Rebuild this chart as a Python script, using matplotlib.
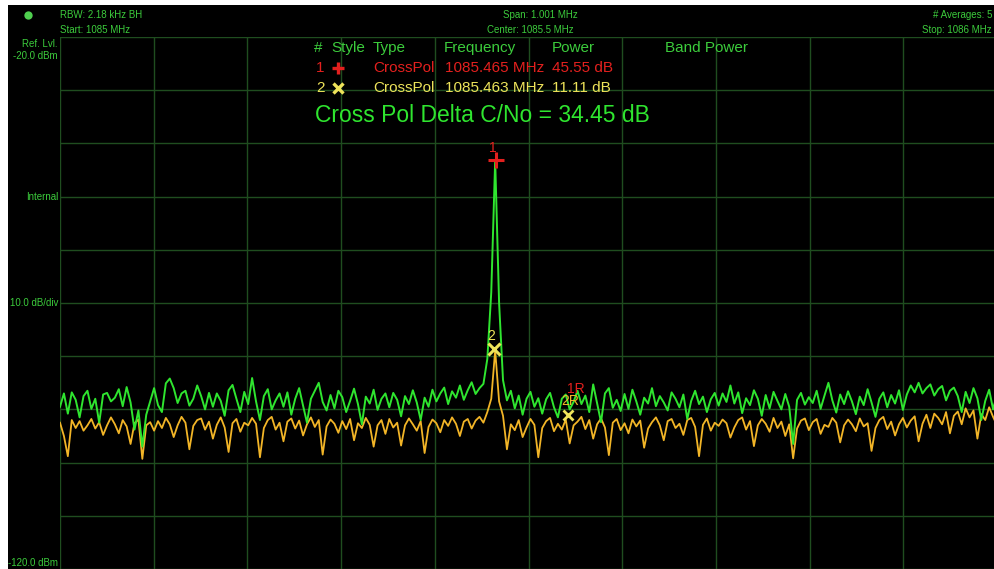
import numpy as np
import matplotlib
matplotlib.use('Agg')
import matplotlib.pyplot as plt
from matplotlib.patches import Rectangle

plt.rcParams['font.family'] = ['Liberation Sans', 'DejaVu Sans']

### sweep settings
start_mhz = 1085.0
stop_mhz = 1086.0
ref_lvl = -20.0
db_div = 10.0

### traces (dBm)
green_trace = [
    -89.5, -87.0, -90.8, -86.8, -88.2, -91.5, -87.5, -86.5, -89.9, -88.0, -92.5, -87.2,
    -86.9, -88.5, -87.8, -86.2, -89.4, -85.8, -88.7, -93.8, -90.2, -97.0, -91.0, -88.5,
    -86.0, -89.2, -90.5, -85.1, -84.2, -86.0, -88.8, -87.0, -86.5, -89.3, -88.0, -85.5,
    -87.5, -90.0, -86.9, -89.5, -87.0, -88.4, -91.2, -86.4, -85.4, -88.0, -90.5, -86.7,
    -89.0, -84.1, -88.5, -92.0, -87.5, -86.2, -90.0, -88.3, -87.0, -89.5, -86.8, -91.0,
    -88.0, -86.0, -89.3, -92.5, -88.0, -86.5, -85.0, -88.6, -90.2, -87.3, -89.8, -86.5,
    -87.7, -90.5, -88.4, -86.1, -89.0, -92.8, -87.6, -88.9, -86.3, -90.1, -88.0, -87.0,
    -89.6, -86.9, -88.2, -91.3, -87.5, -89.0, -86.4, -88.7, -92.0, -87.8, -89.5, -86.3,
    -88.5, -87.0, -85.9, -89.0, -86.6, -87.8, -85.5, -88.2, -86.4, -84.9, -87.1, -86.0,
    -85.2, -80.5, -68.0, -43.2, -70.0, -84.5, -88.3, -86.5, -89.8, -87.4, -91.0, -88.0,
    -86.7, -89.5, -87.9, -90.8, -88.1, -86.9, -89.6, -91.5, -88.0, -87.2, -90.0, -88.6,
    -86.5, -89.0, -87.4, -90.5, -85.3, -88.8, -92.4, -87.0, -86.0, -89.7, -88.2, -90.3,
    -87.1, -89.9, -86.3, -88.5, -91.0, -87.8, -88.9, -86.0, -89.4, -87.5, -88.7, -90.2,
    -86.8, -88.0, -89.6, -87.2, -91.8, -88.4, -86.5, -89.0, -87.6, -90.5, -88.1, -86.9,
    -89.3, -87.0, -88.6, -85.5, -88.9, -86.8, -90.7, -87.9, -89.2, -86.4, -88.0, -91.2,
    -87.3, -89.8, -86.7, -88.4, -90.0, -87.1, -89.5, -96.5, -88.2, -86.9, -89.1, -87.7,
    -88.8, -86.5, -89.9, -87.4, -85.0, -88.3, -90.6, -87.2, -89.0, -86.6, -88.5, -90.9,
    -87.6, -89.2, -86.2, -88.7, -91.4, -88.0, -86.8, -89.6, -87.3, -88.9, -86.4, -90.1,
    -87.2, -85.5, -86.8, -85.0, -87.0, -86.0, -85.3, -87.4, -86.2, -85.6, -88.3, -86.5,
    -85.9, -87.5, -90.5, -86.7, -88.8, -86.0, -87.9, -92.0, -88.4, -86.3, -90.0, -87.2,
]
orange_trace = [
    -92.5, -95.0, -98.8, -92.0, -93.5, -92.2, -94.0, -93.0, -91.8, -93.6, -92.4, -94.8,
    -93.0, -91.5, -92.8, -94.5, -92.0, -93.2, -96.5, -92.6, -91.9, -99.3, -93.0, -92.4,
    -94.0, -92.2, -93.5, -91.6, -92.8, -95.2, -93.0, -91.4, -92.5, -97.5, -93.1, -92.0,
    -91.7, -93.8, -92.3, -95.5, -92.9, -91.5, -93.4, -98.0, -92.6, -91.8, -94.2, -92.5,
    -93.0, -91.6, -92.7, -99.0, -93.5, -92.0, -91.4, -93.8, -92.5, -96.0, -92.3, -91.7,
    -93.6, -92.1, -94.9, -92.8, -91.5, -93.3, -92.0, -98.5, -93.2, -91.9, -92.7, -94.4,
    -92.2, -93.7, -91.8, -95.8, -92.6, -93.5, -91.6, -92.9, -97.0, -93.0, -92.0, -94.6,
    -91.8, -93.4, -92.5, -96.8, -93.0, -91.7, -92.8, -94.0, -92.2, -98.2, -93.3, -91.9,
    -92.6, -94.3, -92.0, -93.1, -91.5, -92.7, -95.0, -92.3, -91.8, -93.6, -92.1, -91.4,
    -92.5, -90.5, -88.0, -78.9, -88.5, -91.2, -97.5, -92.8, -93.9, -92.0, -95.2, -93.4,
    -91.8, -92.9, -99.0, -93.5, -92.2, -91.6, -94.1, -92.7, -93.8, -91.9, -96.4, -93.0,
    -92.3, -91.4, -93.7, -92.0, -95.5, -92.8, -91.7, -93.4, -98.6, -92.5, -91.8, -93.9,
    -92.6, -94.5, -91.9, -93.2, -92.1, -97.2, -93.6, -92.4, -91.5, -93.0, -95.8, -92.2,
    -91.8, -93.5, -92.7, -94.8, -92.0, -91.6, -93.3, -98.8, -92.9, -91.7, -94.0, -92.5,
    -93.1, -91.9, -92.6, -95.3, -93.4, -92.0, -91.5, -93.8, -92.2, -96.9, -93.0, -91.8,
    -92.7, -94.2, -91.6, -93.5, -92.3, -95.0, -92.8, -99.2, -93.6, -92.1, -91.7, -93.9,
    -92.4, -91.8, -94.6, -92.9, -93.3, -91.6, -92.5, -96.2, -93.0, -91.9, -92.8, -94.1,
    -91.7, -93.2, -92.6, -97.8, -93.5, -92.0, -91.4, -93.7, -92.3, -94.9, -92.8, -91.6,
    -93.4, -92.1, -91.3, -96.0, -92.7, -91.0, -93.5, -90.8, -91.6, -92.8, -90.5, -94.5,
    -91.2, -90.4, -92.8, -89.8, -91.5, -90.2, -95.5, -90.9, -92.0, -89.6, -91.4, -93.0,
]

### markers
marker_freqs = [1085.465, 1085.463]
marker_levels = [-43.1, -78.6]
ref_marker_freq = 1085.542
ref_marker_level = -91.1

### marker table text
table_cols = ['#', 'Style', 'Type', 'Frequency', 'Power', 'Band Power']
table_rows = [
    ['1', 'CrossPol', '1085.465 MHz', '45.55 dB'],
    ['2', 'CrossPol', '1085.463 MHz', '11.11 dB'],
]
delta_text = 'Cross Pol Delta C/No = 34.45 dB'

W, H = 994, 569
GRN = '#2fe52f'
ORG = '#f2b527'
RED = '#e3201e'
YEL = '#eee35a'
TXT = '#3ccc3c'
GRID = '#1f4d1f'

fig = plt.figure(figsize=(W / 100, H / 100), dpi=100, facecolor='white')
fig.add_artist(Rectangle((8 / W, 0), 1, 564 / H, transform=fig.transFigure,
                         facecolor='black', edgecolor='none', zorder=-5))


def px(x, y):
    return x / W, 1 - y / H


ax = fig.add_axes([60 / W, 0, 937 / W, 532 / H])
ax.set_facecolor('black')
ax.set_xlim(start_mhz, stop_mhz)
ax.set_ylim(ref_lvl - 10 * db_div, ref_lvl)
ax.set_xticks(np.linspace(start_mhz, stop_mhz, 11))
ax.set_yticks(np.arange(ref_lvl - 10 * db_div, ref_lvl + 1, db_div))
ax.grid(True, color=GRID, linewidth=1)
ax.tick_params(length=0, labelbottom=False, labelleft=False)
for s in ax.spines.values():
    s.set_visible(False)

freqs = np.linspace(start_mhz, stop_mhz, len(green_trace))
ax.plot(freqs, orange_trace, color=ORG, lw=1.3, zorder=3)
ax.plot(freqs, green_trace, color=GRN, lw=1.4, zorder=4)

# markers on trace
ax.plot(marker_freqs[0], marker_levels[0], marker='+', color=RED, ms=11, mew=2.2, zorder=6)
ax.plot(marker_freqs[1], marker_levels[1], marker='x', color=YEL, ms=8, mew=2.2, zorder=6)
ax.text(marker_freqs[0] - 0.003, marker_levels[0] + 1.0, '1', color=RED, fontsize=10,
        ha='center', va='bottom', zorder=6)
ax.text(marker_freqs[1] - 0.003, marker_levels[1] + 1.0, '2', color=YEL, fontsize=10,
        ha='center', va='bottom', zorder=6)
ax.plot(ref_marker_freq, ref_marker_level, marker='x', color=YEL, ms=7, mew=2, zorder=6)
ax.text(ref_marker_freq + 0.008, ref_marker_level + 3.6, '1R', color=RED, fontsize=10,
        ha='center', va='bottom', zorder=6)
ax.text(ref_marker_freq + 0.002, ref_marker_level + 1.3, '2R', color=ORG, fontsize=10,
        ha='center', va='bottom', zorder=6)

# header
fig.lines.append(plt.Line2D([28 / W], [1 - 15 / H], marker='o', ms=6, color='#4fcf4f',
                            mec='none', transform=fig.transFigure, figure=fig))
fig.text(*px(60, 15), 'RBW: 2.18 kHz BH', color=TXT, fontsize=7, va='center')
fig.text(*px(60, 30), 'Start: 1085 MHz', color=TXT, fontsize=7, va='center')
fig.text(*px(540, 15), 'Span: 1.001 MHz', color=TXT, fontsize=7, va='center', ha='center')
fig.text(*px(530, 30), 'Center: 1085.5 MHz', color=TXT, fontsize=7, va='center', ha='center')
fig.text(*px(992, 15), '# Averages: 5', color=TXT, fontsize=7, va='center', ha='right')
fig.text(*px(992, 30), 'Stop: 1086 MHz', color=TXT, fontsize=7, va='center', ha='right')

# left labels
fig.text(*px(58, 44), 'Ref. Lvl.', color=TXT, fontsize=7, va='center', ha='right')
fig.text(*px(58, 56), '-20.0 dBm', color=TXT, fontsize=7, va='center', ha='right')
fig.text(*px(58, 197), 'Internal', color=TXT, fontsize=7, va='center', ha='right')
fig.text(*px(58, 303), '10.0 dB/div', color=TXT, fontsize=7, va='center', ha='right')
fig.text(*px(58, 563), '-120.0 dBm', color=TXT, fontsize=7, va='center', ha='right')

# marker table
col_x = [314, 331, 373, 444, 552, 665]
for name, x in zip(table_cols, col_x):
    fig.text(*px(x, 48), name, color=TXT, fontsize=11, va='center')
row_y = [68, 88]
row_col = [RED, YEL]
row_sym = ['+', 'x']
for (num, typ, freq, pwr), y, c, sym in zip(table_rows, row_y, row_col, row_sym):
    fig.text(*px(316, y), num, color=c, fontsize=11, va='center')
    fig.text(*px(373, y), typ, color=c, fontsize=11, va='center')
    fig.text(*px(445, y), freq, color=c, fontsize=11, va='center')
    fig.text(*px(552, y), pwr, color=c, fontsize=11, va='center')
    fig.lines.append(plt.Line2D([338 / W], [1 - y / H], marker=sym, color=c,
                                ms=9 if sym == '+' else 7, mew=2.4,
                                transform=fig.transFigure, figure=fig))
fig.text(*px(315, 115), delta_text, color=GRN, fontsize=16.5, va='center')

fig.savefig('out.png', dpi=100, facecolor=fig.get_facecolor())
